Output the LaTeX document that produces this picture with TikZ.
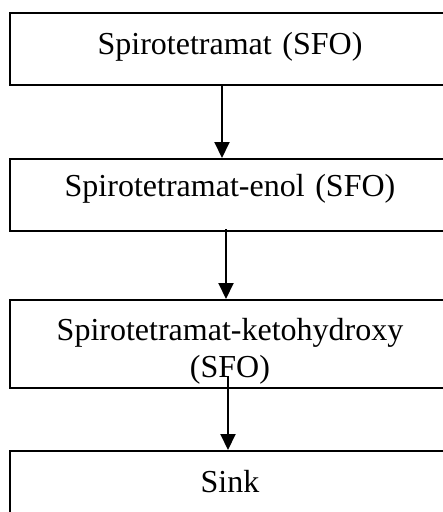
\documentclass[tikz,border=0pt]{standalone}
\usepackage{fontspec}
\setmainfont{Liberation Serif}
\usetikzlibrary{positioning,arrows.meta}

\tikzset{
box/.style= {draw,rectangle,line width=2pt,align=center,text width=440pt,inner xsep=0pt,inner ysep=0pt,
  font=\fontsize{32pt}{37pt}\selectfont},
flow/.style= {line width=2pt,-{Triangle[width=15pt,length=16pt]}}
}

\begin{document}
\begin{tikzpicture}
\clip (0pt,0pt) rectangle (443pt,-512pt);

% the four compartments
\node[box,anchor=north,text height=41pt,text depth=31pt] (b1) at (230pt,-12pt) {Spirotetramat (SFO)};
\node[box,below=72pt of b1,text height=37pt,text depth=35pt] (b2) {Spirotetramat-enol (SFO)};
\node[box,below=67pt of b2,text height=40pt,text depth=48pt] (b3) {Spirotetramat-ketohydroxy\\(SFO)};
\node[box,below=61pt of b3,text height=41pt,text depth=40pt] (b4) {Sink};

% arrows from each compartment to the next one
\foreach \from/\to/\dx/\dy in {b1/b2/-8/0, b2/b3/-4/3, b3/b4/-2/13}
  \draw[flow] ([xshift=\dx pt,yshift=\dy pt]\from.south) -- ([xshift=\dx pt]\to.north);
\end{tikzpicture}
\end{document}
